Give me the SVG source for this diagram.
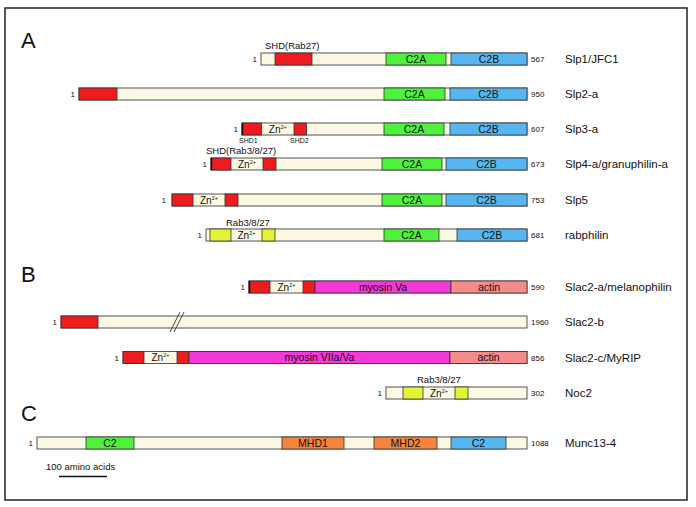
<svg xmlns="http://www.w3.org/2000/svg" width="696" height="507" viewBox="0 0 696 507">
<style>
text{font-family:"Liberation Sans",Arial,Helvetica,sans-serif;fill:#111}
.bar{stroke:#555;stroke-width:1}
.d{stroke:#333;stroke-width:0.8}
.cr{fill:#fcf9e2}
.rd{fill:#f01b1e}
.gn{fill:#4ef23c}
.bl{fill:#57b6ef}
.yl{fill:#e2f434}
.mg{fill:#f43ad6}
.sm{fill:#f58c8c}
.or{fill:#f7843e}
.dl{font-size:10.5px;text-anchor:middle}
.zn{font-size:10px;text-anchor:middle}
.sup{font-size:5.5px}
.num{font-size:8px}
.one{font-size:8px;text-anchor:end}
.name{font-size:11.5px}
.ann{font-size:9.5px}
.small{font-size:7px}
.sec{font-size:22px}
</style>
<rect x="5" y="8" width="682" height="492" fill="#fff" stroke="#222" stroke-width="1.5"/>
<text class="sec" x="21" y="48">A</text>
<text class="sec" x="21" y="282">B</text>
<text class="sec" x="21" y="421">C</text>

<g id="slp1">
<rect class="cr bar" x="261" y="53" width="266" height="12"/>
<rect class="rd d" x="275" y="53" width="37" height="12"/>
<rect class="gn d" x="386" y="53" width="60" height="12"/>
<rect class="bl d" x="451" y="53" width="76" height="12"/>
<text class="dl" x="416" y="62.8">C2A</text>
<text class="dl" x="489" y="62.8">C2B</text>
<text class="ann" x="265" y="49">SHD(Rab27)</text>
<text class="one" x="257" y="62">1</text>
<text class="num" x="531" y="62">567</text>
<text class="name" x="565" y="63">Slp1/JFC1</text>
</g>

<g id="slp2">
<rect class="cr bar" x="79" y="88" width="448" height="12"/>
<rect class="rd d" x="79" y="88" width="38" height="12"/>
<rect class="gn d" x="384" y="88" width="61" height="12"/>
<rect class="bl d" x="450" y="88" width="77" height="12"/>
<text class="dl" x="414.5" y="97.8">C2A</text>
<text class="dl" x="488.5" y="97.8">C2B</text>
<text class="one" x="75" y="97">1</text>
<text class="num" x="531" y="97">950</text>
<text class="name" x="565" y="98">Slp2-a</text>
</g>

<g id="slp3">
<rect class="cr bar" x="242" y="123" width="285" height="12"/>
<rect class="rd d" x="242" y="123" width="19.5" height="12"/>
<rect class="rd d" x="294" y="123" width="12.5" height="12"/>
<rect class="gn d" x="384" y="123" width="60" height="12"/>
<rect class="bl d" x="450" y="123" width="77" height="12"/>
<line x1="242.5" y1="123" x2="242.5" y2="135" stroke="#111" stroke-width="1.5"/>
<text class="zn" x="277.8" y="132.6">Zn<tspan class="sup" dy="-4">2+</tspan></text>
<text class="dl" x="414" y="132.8">C2A</text>
<text class="dl" x="488.5" y="132.8">C2B</text>
<text class="small" x="239" y="142.5">SHD1</text>
<text class="small" x="290" y="142.5">SHD2</text>
<text class="one" x="238" y="132">1</text>
<text class="num" x="531" y="132">607</text>
<text class="name" x="565" y="133">Slp3-a</text>
</g>

<g id="slp4">
<rect class="cr bar" x="211" y="158" width="316" height="12"/>
<rect class="rd d" x="211" y="158" width="20" height="12"/>
<rect class="rd d" x="263" y="158" width="13" height="12"/>
<rect class="gn d" x="382" y="158" width="60" height="12"/>
<rect class="bl d" x="446" y="158" width="81" height="12"/>
<line x1="211.5" y1="158" x2="211.5" y2="170" stroke="#111" stroke-width="1.5"/>
<text class="zn" x="247" y="167.6">Zn<tspan class="sup" dy="-4">2+</tspan></text>
<text class="dl" x="412" y="167.8">C2A</text>
<text class="dl" x="486.5" y="167.8">C2B</text>
<text class="ann" x="206" y="154">SHD(Rab3/8/27)</text>
<text class="one" x="207" y="167">1</text>
<text class="num" x="531" y="167">673</text>
<text class="name" x="565" y="168">Slp4-a/granuphilin-a</text>
</g>

<g id="slp5">
<rect class="cr bar" x="172" y="194" width="355" height="12"/>
<rect class="rd d" x="172" y="194" width="21" height="12"/>
<rect class="rd d" x="225" y="194" width="13" height="12"/>
<rect class="gn d" x="382" y="194" width="60" height="12"/>
<rect class="bl d" x="446" y="194" width="81" height="12"/>
<text class="zn" x="209" y="203.6">Zn<tspan class="sup" dy="-4">2+</tspan></text>
<text class="dl" x="412" y="203.8">C2A</text>
<text class="dl" x="486.5" y="203.8">C2B</text>
<text class="one" x="166" y="203">1</text>
<text class="num" x="531" y="203">753</text>
<text class="name" x="565" y="204">Slp5</text>
</g>

<g id="rabphilin">
<rect class="cr bar" x="206" y="229" width="321" height="12"/>
<rect class="yl d" x="210" y="229" width="21" height="12"/>
<rect class="yl d" x="262" y="229" width="13" height="12"/>
<rect class="gn d" x="384" y="229" width="55" height="12"/>
<rect class="bl d" x="457" y="229" width="70" height="12"/>
<text class="zn" x="246.5" y="238.6">Zn<tspan class="sup" dy="-4">2+</tspan></text>
<text class="dl" x="411.5" y="238.8">C2A</text>
<text class="dl" x="492" y="238.8">C2B</text>
<text class="ann" x="226" y="225.5">Rab3/8/27</text>
<text class="one" x="202" y="238">1</text>
<text class="num" x="531" y="238">681</text>
<text class="name" x="565" y="239">rabphilin</text>
</g>

<g id="slac2a">
<rect class="cr bar" x="249" y="281" width="278" height="12"/>
<rect class="rd d" x="249" y="281" width="21" height="12"/>
<rect class="rd d" x="303" y="281" width="12" height="12"/>
<rect class="mg d" x="315" y="281" width="136" height="12"/>
<rect class="sm d" x="451" y="281" width="76" height="12"/>
<line x1="249.5" y1="281" x2="249.5" y2="293" stroke="#111" stroke-width="1.5"/>
<text class="zn" x="286.5" y="290.6">Zn<tspan class="sup" dy="-4">2+</tspan></text>
<text class="dl" x="383" y="290.8">myosin Va</text>
<text class="dl" x="489" y="290.8">actin</text>
<text class="one" x="245" y="290">1</text>
<text class="num" x="531" y="290">590</text>
<text class="name" x="565" y="291">Slac2-a/melanophilin</text>
</g>

<g id="slac2b">
<rect class="cr bar" x="61" y="316" width="466" height="12"/>
<rect class="rd d" x="61" y="316" width="37" height="12"/>
<line x1="170" y1="332" x2="180" y2="312" stroke="#444" stroke-width="1"/>
<line x1="174" y1="332" x2="184" y2="312" stroke="#444" stroke-width="1"/>
<text class="one" x="57" y="325">1</text>
<text class="num" x="531" y="325">1960</text>
<text class="name" x="565" y="326">Slac2-b</text>
</g>

<g id="slac2c">
<rect class="cr bar" x="123" y="351.5" width="404" height="12"/>
<rect class="rd d" x="123" y="351.5" width="21" height="12"/>
<rect class="rd d" x="177" y="351.5" width="12" height="12"/>
<rect class="mg d" x="189" y="351.5" width="261" height="12"/>
<rect class="sm d" x="450" y="351.5" width="77" height="12"/>
<text class="zn" x="160.5" y="361.1">Zn<tspan class="sup" dy="-4">2+</tspan></text>
<text class="dl" x="319.5" y="361.3">myosin VIIa/Va</text>
<text class="dl" x="488.5" y="361.3">actin</text>
<text class="one" x="119" y="360.5">1</text>
<text class="num" x="531" y="360.5">856</text>
<text class="name" x="565" y="361.5">Slac2-c/MyRIP</text>
</g>

<g id="noc2">
<rect class="cr bar" x="386" y="387" width="141" height="12"/>
<rect class="yl d" x="403" y="387" width="20" height="12"/>
<rect class="yl d" x="455" y="387" width="13" height="12"/>
<text class="zn" x="439" y="396.6">Zn<tspan class="sup" dy="-4">2+</tspan></text>
<text class="ann" x="417" y="383">Rab3/8/27</text>
<text class="one" x="382" y="396">1</text>
<text class="num" x="531" y="396">302</text>
<text class="name" x="565" y="397">Noc2</text>
</g>

<g id="munc13-4">
<rect class="cr bar" x="37" y="437" width="490" height="12"/>
<rect class="gn d" x="86" y="437" width="48" height="12"/>
<rect class="or d" x="282" y="437" width="62" height="12"/>
<rect class="or d" x="374" y="437" width="63" height="12"/>
<rect class="bl d" x="451" y="437" width="55" height="12"/>
<text class="dl" x="110" y="446.8">C2</text>
<text class="dl" x="313" y="446.8">MHD1</text>
<text class="dl" x="405.5" y="446.8">MHD2</text>
<text class="dl" x="478.5" y="446.8">C2</text>
<text class="one" x="33" y="446">1</text>
<text class="num" x="531" y="446">1088</text>
<text class="name" x="565" y="447">Munc13-4</text>
</g>

<g id="scale">
<text class="ann" x="46" y="470">100 amino acids</text>
<line x1="59" y1="476.5" x2="107" y2="476.5" stroke="#111" stroke-width="1.5"/>
</g>
</svg>
